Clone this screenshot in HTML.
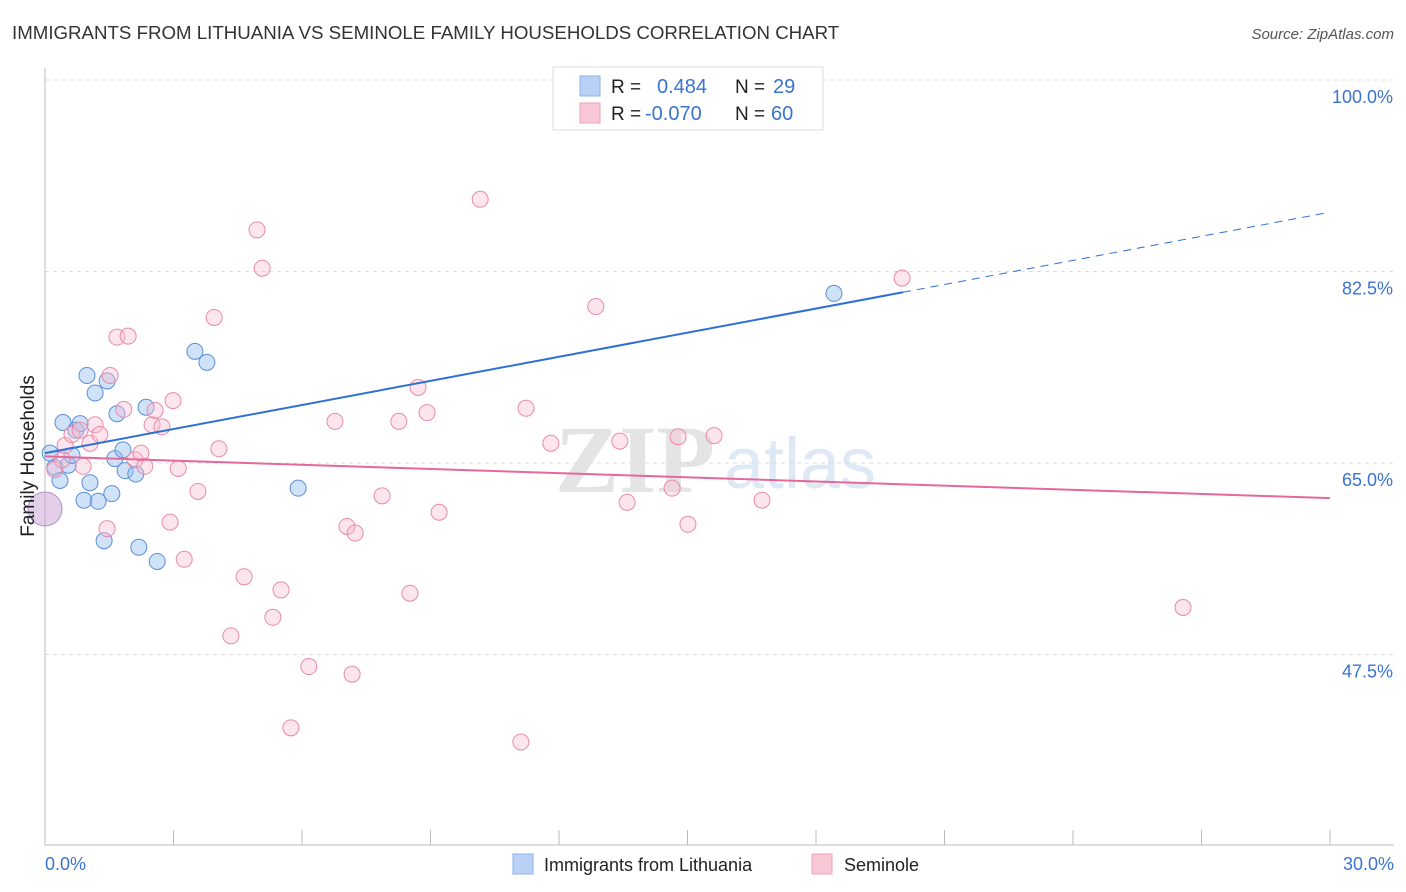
<!DOCTYPE html>
<html><head><meta charset="utf-8"><style>
body{margin:0;background:#fff;font-family:"Liberation Sans",sans-serif}
svg{display:block}
</style></head><body>
<svg id="c" width="1406" height="892" xmlns="http://www.w3.org/2000/svg">
<text x="12" y="39" font-size="18.7" fill="#333">IMMIGRANTS FROM LITHUANIA VS SEMINOLE FAMILY HOUSEHOLDS CORRELATION CHART</text>
<text x="1394" y="39" font-size="15" fill="#555" font-style="italic" text-anchor="end">Source: ZipAtlas.com</text>
<text x="635" y="492" font-size="96" fill="#e4e4e4" font-family="Liberation Serif" font-weight="bold" text-anchor="middle">ZIP</text>
<text x="800" y="488" font-size="72" fill="#dfe8f5" text-anchor="middle">atlas</text>
<g id="grid"></g>
<g id="axes"></g>
<g id="marks"></g>
<text transform="translate(34,456) rotate(-90)" font-size="19" fill="#222" text-anchor="middle">Family Households</text>
<text x="45" y="870" font-size="18" fill="#3a73d0">0.0%</text>
<text x="1394" y="870" font-size="18" fill="#3a73d0" text-anchor="end">30.0%</text>
<g>
<rect x="553" y="67" width="270" height="63" fill="#fff" stroke="#ddd"/>
<rect x="580" y="76" width="20" height="20" fill="#b9d1f5" stroke="#8fb2e8"/>
<rect x="580" y="103" width="20" height="20" fill="#f9c7d6" stroke="#eca3ba"/>
<text x="611" y="93" font-size="19" fill="#222">R =</text>
<text x="657" y="93" font-size="20" fill="#3a73d0">0.484</text>
<text x="735" y="93" font-size="19" fill="#222">N =</text>
<text x="773" y="93" font-size="20" fill="#3a73d0">29</text>
<text x="611" y="120" font-size="19" fill="#222">R =</text>
<text x="645" y="120" font-size="20" fill="#3a73d0">-0.070</text>
<text x="735" y="120" font-size="19" fill="#222">N =</text>
<text x="771" y="120" font-size="20" fill="#3a73d0">60</text>
</g>
<g>
<rect x="513" y="854" width="20" height="20" fill="#b9d1f5" stroke="#8fb2e8"/>
<text x="544" y="871" font-size="18" fill="#222">Immigrants from Lithuania</text>
<rect x="812" y="854" width="20" height="20" fill="#f9c7d6" stroke="#eca3ba"/>
<text x="844" y="871" font-size="18" fill="#222">Seminole</text>
</g>
</svg>
<script>
const yTicks=[100,82.5,65,47.5];
const xTicks=[3,6,9,12,15,18,21,24,27,30];
const blueX=[0.12,0.23,0.35,0.42,0.54,0.63,0.72,0.82,0.91,0.98,1.05,1.17,1.24,1.38,1.45,1.56,1.63,1.68,1.82,1.87,2.12,2.19,2.36,2.62,3.50,3.78,5.91,18.42];
const blueY=[65.9,64.6,63.4,68.7,64.8,65.7,68.0,68.6,61.6,73.0,63.2,71.4,61.5,57.9,72.5,62.2,65.4,69.5,66.2,64.3,64.0,57.3,70.1,56.0,75.2,74.2,62.7,80.5];
const pinkX=[0.23,0.40,0.47,0.63,0.82,0.89,1.05,1.17,1.28,1.45,1.52,1.68,1.84,1.94,2.10,2.24,2.33,2.50,2.57,2.73,2.92,2.99,3.11,3.25,3.57,3.95,4.06,4.34,4.65,4.95,5.07,5.32,5.51,5.74,6.16,6.77,7.05,7.17,7.24,7.87,8.26,8.52,8.71,8.92,9.20,10.16,11.11,11.23,11.81,12.86,13.42,13.59,14.64,14.78,15.01,15.62,16.74,20.01,26.57];
const pinkY=[64.4,65.3,66.6,67.6,68.0,64.7,66.8,68.5,67.6,59.0,73.0,76.5,69.9,76.6,65.3,65.9,64.7,68.5,69.8,68.3,59.6,70.7,64.5,56.2,62.4,78.3,66.3,49.2,54.6,86.3,82.8,50.9,53.4,40.8,46.4,68.8,59.2,45.7,58.6,62.0,68.8,53.1,71.9,69.6,60.5,89.1,39.5,70.0,66.8,79.3,67.0,61.4,62.7,67.4,59.4,67.5,61.6,81.9,51.8];
const blueFit=[65.9,0.734];
const pinkFit=[65.6,-0.127];
const NS="http://www.w3.org/2000/svg";
const sx=v=>45+v/30*1285;
const sy=v=>80+(100-v)/17.5*191.5;
function mk(t,a,p){const e=document.createElementNS(NS,t);for(const k in a)e.setAttribute(k,a[k]);document.getElementById(p).appendChild(e);return e;}
yTicks.forEach(t=>{
 const l=mk('line',{x1:45,x2:1394,y1:sy(t),y2:sy(t),stroke:'#ddd','stroke-dasharray':'4,4'},'grid');
 
 
 const tx=mk('text',{x:1393,y:sy(t)+23,'font-size':18,fill:'#3a73d0','text-anchor':'end'},'grid');
 tx.textContent=t.toFixed(1)+'%';
 
 
});
const ya=mk('line',{x1:45,x2:45,y1:68,y2:845,stroke:'#bbb'},'axes');


const xa=mk('line',{x1:45,x2:1394,y1:845,y2:845,stroke:'#bbb'},'axes');


xTicks.forEach(t=>{
 const l=mk('line',{x1:sx(t),x2:sx(t),y1:830,y2:845,stroke:'#bbb'},'axes');
 
 
});
blueX.forEach((x,i)=>{
 const c=mk('circle',{cx:sx(x),cy:sy(blueY[i]),r:8,fill:'rgba(150,190,240,0.45)',stroke:'#5b8fd8','stroke-width':1},'marks');
 
 
});
const big=mk('circle',{cx:sx(0),cy:sy(60.8),r:17,fill:'rgba(200,160,210,0.5)',stroke:'#b090d0'},'marks');


pinkX.forEach((x,i)=>{
 const c=mk('circle',{cx:sx(x),cy:sy(pinkY[i]),r:8,fill:'rgba(248,190,210,0.4)',stroke:'#e98aa9','stroke-width':1},'marks');
 
 
});
const f=(fit,x)=>fit[0]+fit[1]*x;
const bl=mk('line',{x1:sx(0),y1:sy(f(blueFit,0)),x2:sx(20.03),y2:sy(f(blueFit,20.03)),stroke:'#2f6fd6','stroke-width':2},'marks');


const bd=mk('line',{x1:sx(20.03),y1:sy(f(blueFit,20.03)),x2:sx(29.9),y2:sy(f(blueFit,29.9)),stroke:'#2f6fd6','stroke-width':1,'stroke-dasharray':'8,6'},'marks');


const pl=mk('line',{x1:sx(0),y1:sy(f(pinkFit,0)),x2:sx(30),y2:sy(f(pinkFit,30)),stroke:'#e4699a','stroke-width':2},'marks');


</script>
</body></html>
